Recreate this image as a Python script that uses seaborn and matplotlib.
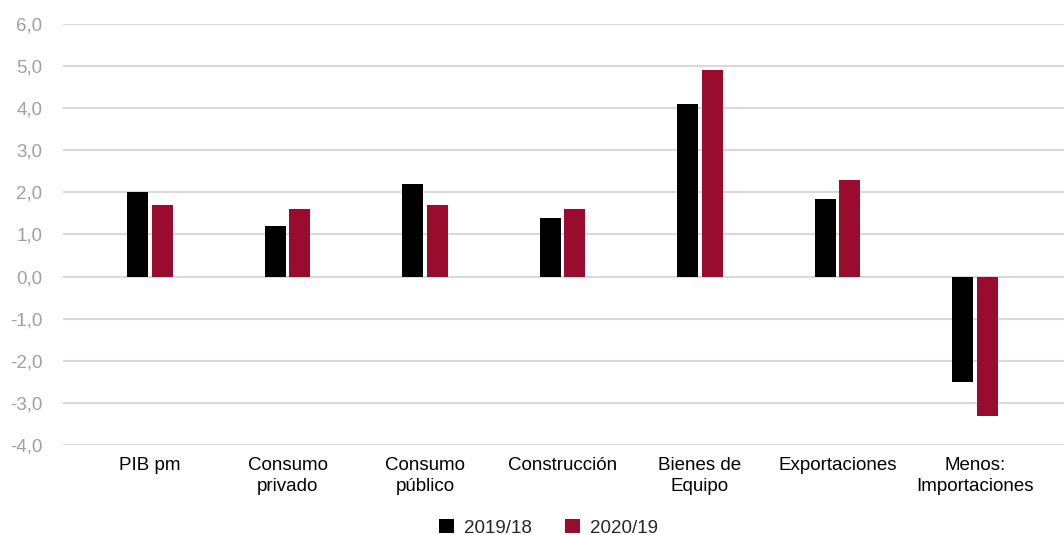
import pandas as pd
import matplotlib.pyplot as plt
import seaborn as sns

# Data
categories = ["PIB pm", "Consumo\nprivado", "Consumo\npúblico", "Construcción",
              "Bienes de\nEquipo", "Exportaciones", "Menos:\nImportaciones"]
series_names = ["2019/18", "2020/19"]
values_2019 = [2.0, 1.2, 2.2, 1.4, 4.1, 1.85, -2.5]
values_2020 = [1.7, 1.6, 1.7, 1.6, 4.9, 2.3, -3.3]
y_ticks = [-4, -3, -2, -1, 0, 1, 2, 3, 4, 5, 6]

df = pd.DataFrame({
    "categoria": categories * 2,
    "serie": [series_names[0]] * 7 + [series_names[1]] * 7,
    "valor": values_2019 + values_2020,
})

sns.set_style("white")
plt.rcParams["font.family"] = ["Liberation Sans", "DejaVu Sans"]

fig = plt.figure(figsize=(10.64, 5.35), dpi=100)
ax = fig.add_axes([63 / 1064, 1 - 445 / 535, 1 - 63 / 1064, (445 - 24) / 535])

palette = {"2019/18": "#000000", "2020/19": "#990C2E"}
sns.barplot(data=df, x="categoria", y="valor", hue="serie", palette=palette,
            width=0.356, gap=0.14, ax=ax, legend=True, saturation=1,
            linewidth=0, edgecolor="none")

ax.set_ylim(-4, 6)
ax.set_xlim(-0.633, 6.647)
ax.set_yticks(y_ticks)
ax.set_yticklabels([f"{t:.1f}".replace(".", ",") for t in y_ticks],
                   color="#A0A0A0", fontsize=13.5)
ax.tick_params(axis="x", labelsize=13.5, colors="black", length=0, pad=9)
ax.tick_params(axis="y", length=0, pad=15)
for lbl in ax.get_xticklabels():
    lbl.set_linespacing(1.25)
ax.grid(axis="y", color="#D9D9D9", linewidth=1.5)
ax.set_axisbelow(True)
for s in ax.spines.values():
    s.set_visible(False)
ax.set_xlabel("")
ax.set_ylabel("")

ax.legend(loc="lower center", bbox_to_anchor=(0.485, -0.24), ncol=2, frameon=False,
          fontsize=13.5, handlelength=0.8, handleheight=0.8, columnspacing=1.8,
          handletextpad=0.5, borderpad=0)

fig.savefig("out.png", dpi=100)
